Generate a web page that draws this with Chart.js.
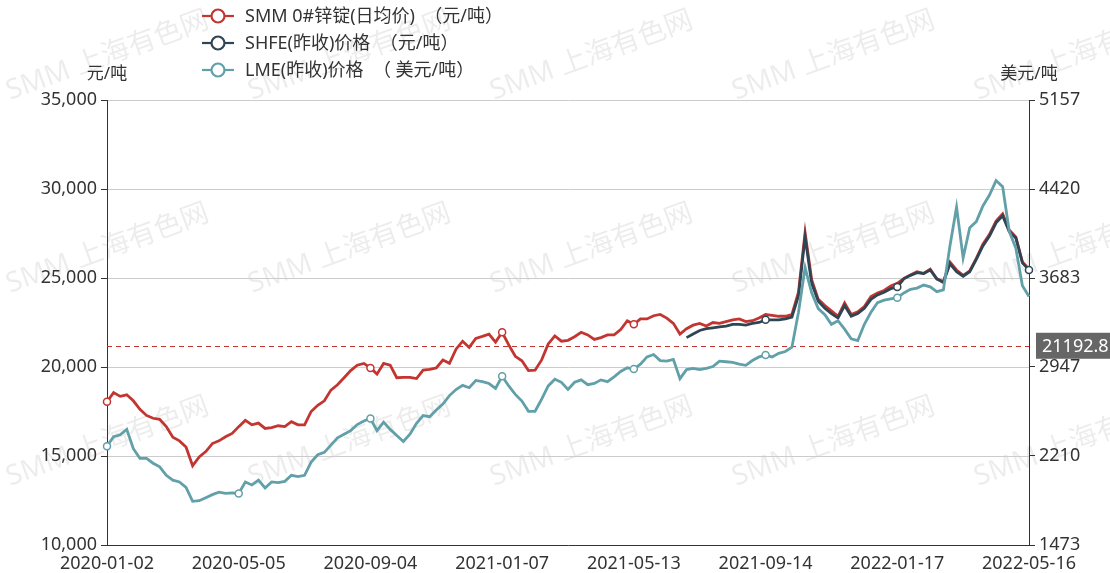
<!DOCTYPE html>
<html>
<head>
<meta charset="utf-8">
<script src="https://cdn.jsdelivr.net/npm/chart.js@4.4.1/dist/chart.umd.min.js"></script>
<style>
  html, body { margin: 0; padding: 0; background: #ffffff; }
  #wrap { width: 1110px; height: 573px; }
</style>
</head>
<body>
<div id="wrap"><canvas id="c" width="1110" height="573"></canvas></div>
<script>
// ---------- data ----------
const tickDates = ['2020-01-02','2020-05-05','2020-09-04','2021-01-07','2021-05-13','2021-09-14','2022-01-17','2022-05-16'];
const pointsPerTick = 20;

const seriesNames = ['SMM 0#锌锭(日均价)  （元/吨）', 'SHFE(昨收)价格  （元/吨）', 'LME(昨收)价格  （ 美元/吨）'];

const smmPrice = [
  18050, 18560, 18350, 18440, 18100, 17620, 17280, 17120, 17060, 16650, 16050, 15850, 15500, 14450, 14950, 15250, 15700, 15850, 16080, 16270,
  16650, 17000, 16750, 16850, 16550, 16600, 16700, 16650, 16930, 16750, 16750, 17500, 17850, 18100, 18700, 19000, 19400, 19800, 20100, 20200,
  19950, 19600, 20200, 20100, 19400, 19420, 19420, 19350, 19830, 19870, 19950, 20390, 20210, 21000, 21450, 21100, 21610, 21720, 21850, 21400,
  21950, 21240, 20600, 20350, 19800, 19820, 20400, 21300, 21750, 21450, 21500, 21700, 21950, 21800, 21550, 21650, 21800, 21800, 22100, 22600,
  22400, 22700, 22700, 22880, 22950, 22750, 22450, 21850, 22150, 22350, 22450, 22300, 22500, 22450, 22550, 22650, 22700, 22550, 22600, 22750,
  22950, 22900, 22850, 22850, 22950, 24200, 27550, 24900, 23800, 23450, 23150, 22850, 23600, 22950, 23100, 23400, 23950, 24150, 24300, 24550,
  24700, 24980, 25170, 25350, 25260, 25500, 24950, 24800, 25900, 25450, 25150, 25400, 26100, 26900, 27450, 28200, 28600, 27700, 27300, 25900,
  25500
];

const shfePrice = [
  null, null, null, null, null, null, null, null, null, null, null, null, null, null, null, null, null, null, null, null,
  null, null, null, null, null, null, null, null, null, null, null, null, null, null, null, null, null, null, null, null,
  null, null, null, null, null, null, null, null, null, null, null, null, null, null, null, null, null, null, null, null,
  null, null, null, null, null, null, null, null, null, null, null, null, null, null, null, null, null, null, null, null,
  null, null, null, null, null, null, null, null, 21650, 21850, 22050, 22150, 22200, 22250, 22300, 22400, 22400, 22350, 22450, 22500,
  22650, 22650, 22650, 22700, 22800, 24000, 27300, 24700, 23700, 23300, 23000, 22750, 23450, 22850, 23000, 23300, 23800, 24050, 24200, 24400,
  24500, 24950, 25150, 25300, 25250, 25450, 24950, 24750, 25800, 25350, 25100, 25350, 26050, 26800, 27350, 28100, 28500, 27600, 27250, 25850,
  25450
];

const lmePrice = [
  2290, 2370, 2385, 2430, 2270, 2190, 2190, 2150, 2120, 2050, 2010, 1995, 1950, 1835, 1840, 1865, 1890, 1910, 1900, 1905,
  1900, 1995, 1970, 2010, 1945, 1995, 1990, 2000, 2050, 2040, 2050, 2160, 2220, 2240, 2300, 2360, 2390, 2420, 2470, 2500,
  2520, 2420, 2490, 2430, 2380, 2330, 2390, 2480, 2545, 2535, 2590, 2640, 2710, 2760, 2795, 2775, 2835, 2825, 2810, 2770,
  2870, 2790, 2720, 2665, 2580, 2580, 2680, 2790, 2845, 2820, 2760, 2820, 2840, 2800, 2810, 2840, 2825, 2865, 2910, 2940,
  2930, 2970, 3030, 3050, 3000, 2995, 3010, 2850, 2925, 2935, 2925, 2935, 2950, 2995, 2990, 2985, 2970, 2960, 3000, 3030,
  3045, 3030, 3060, 3075, 3110, 3400, 3770, 3560, 3430, 3380, 3300, 3330, 3260, 3180, 3165, 3300, 3400, 3480, 3500, 3510,
  3520, 3560, 3590, 3600, 3625, 3610, 3570, 3585, 3950, 4270, 3850, 4100, 4150, 4280, 4370, 4490, 4440, 4070, 3930, 3620,
  3530
];

const leftTicks = [10000, 15000, 20000, 25000, 30000, 35000];
const rightTicks = [1473, 2210, 2947, 3683, 4420, 5157];
const averageLine = 21192.8;
const leftUnit = '元/吨';
const rightUnit = '美元/吨';
const watermark = 'SMM 上海有色网';

// categories: tick dates at every pointsPerTick-th sample
const categories = smmPrice.map((_, i) => (i % pointsPerTick === 0 ? tickDates[i / pointsPerTick] : ''));

// ---------- style ----------
const RED = '#c23531', NAVY = '#2f4554', TEAL = '#61a0a8';
const FONT = '"Noto Sans", "Noto Sans CJK SC", sans-serif';
Chart.defaults.font.family = FONT;
Chart.defaults.font.size = 18;
Chart.defaults.color = '#333';

// which sampled points carry a hollow marker (as in the reference)
const markerAt = {
  smm: [0, 40, 60, 80],
  shfe: [100, 120, 140],
  lme: [0, 20, 40, 60, 80, 100, 120]
};

function ds(label, data, color, axis, order, marks) {
  const r = ctx => (marks.includes(ctx.dataIndex) ? 3.5 : 0);
  return {
    label, data, yAxisID: axis, order,
    borderColor: color, backgroundColor: '#fff',
    borderWidth: 2.8, tension: 0, spanGaps: false,
    pointRadius: r, pointHoverRadius: r,
    pointBorderColor: color, pointBackgroundColor: '#fff', pointBorderWidth: 1.5
  };
}

// watermark + average line + custom legend + unit titles
const decorPlugin = {
  id: 'decor',
  beforeDraw(chart) {
    const ctx = chart.ctx;
    ctx.save();
    ctx.font = '28px ' + FONT;
    ctx.fillStyle = 'rgba(0,0,0,0.075)';
    ctx.textBaseline = 'alphabetic';
    for (let r = 0; r < 3; r++) {
      for (let c = 0; c < 5; c++) {
        ctx.save();
        ctx.translate(10 + 242 * c, 100 + 193 * r);
        ctx.rotate(-20 * Math.PI / 180);
        ctx.fillText(watermark, 0, 0);
        ctx.restore();
      }
    }
    ctx.restore();
  },
  beforeDatasetsDraw(chart) {
    const ctx = chart.ctx, a = chart.chartArea;
    const y = Math.round(chart.scales.y.getPixelForValue(averageLine)) + 0.5;
    ctx.save();
    ctx.strokeStyle = RED;
    ctx.lineWidth = 1;
    ctx.setLineDash([5, 4]);
    ctx.beginPath();
    ctx.moveTo(a.left, y);
    ctx.lineTo(a.right, y);
    ctx.stroke();
    ctx.restore();
  },
  afterDraw(chart) {
    const ctx = chart.ctx, a = chart.chartArea;
    ctx.save();
    // average label
    const y = chart.scales.y.getPixelForValue(averageLine);
    ctx.fillStyle = '#666';
    ctx.fillRect(a.right + 7, y - 13, 90, 26);
    ctx.fillStyle = '#fff';
    ctx.font = '18px ' + FONT;
    ctx.textBaseline = 'middle';
    ctx.textAlign = 'left';
    ctx.fillText(String(averageLine), a.right + 13, y + 1);
    // unit titles
    ctx.fillStyle = '#333';
    ctx.font = '17px ' + FONT;
    ctx.textAlign = 'center';
    ctx.fillText(leftUnit, a.left, 74);
    ctx.fillText(rightUnit, a.right, 74);
    // legend
    ctx.font = '18px ' + FONT;
    chart.data.datasets.forEach((d, k) => {
      const ly = 16 + 27 * k;
      ctx.strokeStyle = d.borderColor;
      ctx.lineWidth = 2.2;
      ctx.setLineDash([]);
      ctx.beginPath();
      ctx.moveTo(202, ly); ctx.lineTo(234, ly);
      ctx.stroke();
      ctx.beginPath();
      ctx.arc(218, ly, 6.5, 0, Math.PI * 2);
      ctx.fillStyle = '#fff';
      ctx.fill();
      ctx.stroke();
      ctx.fillStyle = '#333';
      ctx.textAlign = 'left';
      ctx.fillText(d.label, 245, ly + 1);
    });
    ctx.restore();
  }
};

new Chart(document.getElementById('c'), {
  type: 'line',
  data: {
    labels: categories,
    datasets: [
      ds(seriesNames[0], smmPrice, RED, 'y', 3, markerAt.smm),
      ds(seriesNames[1], shfePrice, NAVY, 'y', 2, markerAt.shfe),
      ds(seriesNames[2], lmePrice, TEAL, 'y1', 1, markerAt.lme)
    ]
  },
  options: {
    responsive: false,
    animation: false,
    layout: { padding: { top: 100, left: 0, right: 0, bottom: 0 } },
    plugins: { legend: { display: false }, tooltip: { enabled: false } },
    scales: {
      x: {
        offset: false,
        grid: { display: false },
        border: { display: true, color: '#333', width: 1 },
        ticks: { autoSkip: false, maxRotation: 0, padding: 0, color: '#333',
                 callback: (v, i) => categories[i] },
        afterFit: s => { s.height = 28; }
      },
      y: {
        position: 'left', min: leftTicks[0], max: leftTicks[leftTicks.length - 1],
        afterBuildTicks: s => { s.ticks = leftTicks.map(v => ({ value: v })); },
        grid: { color: '#ccc', tickColor: '#333', tickLength: 6 },
        border: { display: true, color: '#333', width: 1 },
        ticks: { padding: 4, color: '#333', callback: v => v.toLocaleString('en-US') },
        afterFit: s => { s.width = 107; }
      },
      y1: {
        position: 'right', min: rightTicks[0], max: rightTicks[rightTicks.length - 1],
        afterBuildTicks: s => { s.ticks = rightTicks.map(v => ({ value: v })); },
        grid: { drawOnChartArea: false, tickColor: '#333', tickLength: 6 },
        border: { display: true, color: '#333', width: 1 },
        ticks: { padding: 4, color: '#333', callback: v => String(v) },
        afterFit: s => { s.width = 81; }
      }
    }
  },
  plugins: [decorPlugin]
});
</script>
</body>
</html>
